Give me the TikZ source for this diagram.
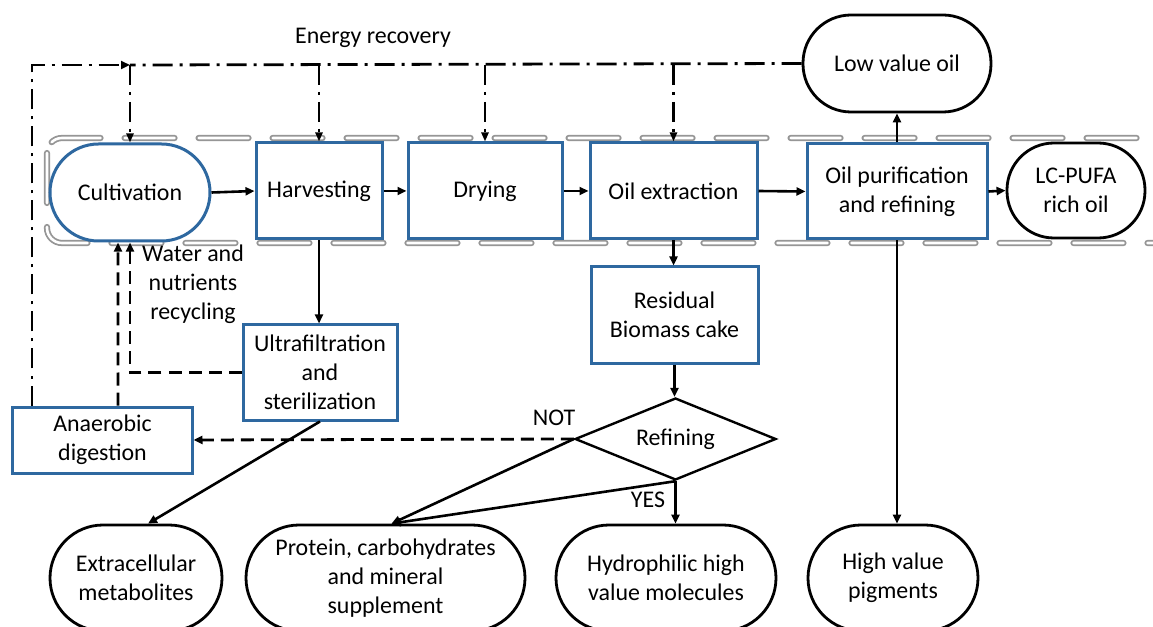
\documentclass[tikz,border=0pt]{standalone}
\usepackage{fontspec}
\setmainfont{Carlito}
\usetikzlibrary{arrows.meta,shapes.geometric}
\definecolor{boxblue}{RGB}{46,104,160}
\definecolor{bandgray}{RGB}{150,150,150}
\begin{document}
\begin{tikzpicture}[x=1bp,y=-1bp,
  every node/.style={font=\fontsize{24}{29}\selectfont, align=center},
  bluebox/.style={draw=boxblue, line width=3bp, fill=white, rectangle, inner sep=0pt},
  stad/.style={draw=black, line width=2.8bp, fill=white, rectangle, rounded corners=#1, inner sep=0pt},
  arr/.style={line width=2.6bp, -{Triangle[length=9bp,width=8bp]}},
  dsh/.style={line width=2.8bp, dash pattern=on 13bp off 7bp},
  dd/.style={line width=2.8bp, dash pattern=on 20bp off 7bp on 3bp off 7bp},
  band/.style={draw=bandgray, double=white, double distance=2.6bp, line width=1.8bp, dash pattern=on 50bp off 24bp, line cap=round, rounded corners=15bp},
  lbl/.style={inner sep=0pt}
]
\clip (0,0) rectangle (1153,627);
\fill[white] (0,0) rectangle (1153,627);
% grey band
\draw[band] (47,138) rectangle (1170,243);

% nodes
\node[bluebox, rounded corners=48.5bp, minimum width=160bp, minimum height=97bp] (cult) at (130,192.5) {Cultivation};
\node[bluebox, minimum width=126bp, minimum height=96bp] (harv) at (319,191) {Harvesting};
\node[bluebox, minimum width=154bp, minimum height=96bp] (dry) at (485,191) {Drying};
\node[bluebox, minimum width=167bp, minimum height=96bp] (oilext) at (673.5,191) {Oil extraction};
\node[bluebox, minimum width=180bp, minimum height=95bp] (purif) at (897,191.5) {Oil purification\\and refining};
\node[stad=47bp, minimum width=138bp, minimum height=95bp] (pufa) at (1076,190.5) {LC-PUFA\\rich oil};
\node[stad=48bp, minimum width=188bp, minimum height=97bp] (lowoil) at (897,63.5) {Low value oil};
\node[bluebox, minimum width=167bp, minimum height=96bp] (resid) at (674.5,315) {Residual\\Biomass cake};
\node[draw=black, line width=2.4bp, fill=white, diamond, inner sep=0pt, minimum width=201bp, minimum height=82bp, shape aspect=2.45] (refin) at (675.5,439) {Refining};
\node[bluebox, minimum width=154bp, minimum height=95bp] (ultra) at (320,372.5) {Ultrafiltration\\and\\sterilization};
\node[bluebox, minimum width=179bp, minimum height=66bp] (anaer) at (102.5,440) {Anaerobic\\digestion};
\node[stad=53bp, minimum width=172bp, minimum height=106bp] (extra) at (136,578) {Extracellular\\metabolites};
\node[stad=53bp, minimum width=279bp, minimum height=106bp] (prot) at (385.5,578) {Protein, carbohydrates\\and mineral\\supplement};
\node[stad=53bp, minimum width=220bp, minimum height=106bp] (hydro) at (666,578) {Hydrophilic high\\value molecules};
\node[stad=53bp, minimum width=170bp, minimum height=106bp] (pigm) at (893,578) {High value\\pigments};

% labels
\node[lbl] (lblenergy) at (373,38) {Energy recovery};
\node[lbl] (lblwater) at (193,284) {Water and\\nutrients\\recycling};
\node[lbl] (lblnot) at (554,418) {NOT};
\node[lbl] (lblyes) at (648,500) {YES};

% main solid arrows
\draw[arr] (cult.east) -- (harv.west);
\draw[arr] (harv.east) -- (dry.west);
\draw[arr] (dry.east) -- (oilext.west);
\draw[arr] (oilext.east) -- (purif.west);
\draw[arr] (purif.east) -- (pufa.west);
\draw[arr] (purif.north) -- (lowoil.south);
\draw[arr] (oilext.south) -- (oilext.south |- resid.north);
\draw[arr] (resid.south) -- (resid.south |- refin.north);
\draw[arr] (harv.south) -- (harv.south |- ultra.north);
\draw[arr] (ultra.south) -- ([xshift=12bp]extra.north);
\draw[arr] (refin.west) -- ([xshift=6bp]prot.north);
\draw[arr] (refin.south) -- ([xshift=6bp]prot.north);
\draw[arr] (refin.south) -- (refin.south |- hydro.north);
\draw[arr] (purif.south) -- (purif.south |- pigm.north);

% dashed recycling
\draw[dsh, -{Triangle[length=9bp,width=8bp]}] (refin.west) -- (anaer.east);
\draw[dsh, -{Triangle[length=9bp,width=8bp]}] (ultra.west) -- (ultra.west -| cult.south) -- (cult.south);
\draw[dsh, -{Triangle[length=9bp,width=8bp]}] ([xshift=15.5bp]anaer.north) -- ([xshift=-12bp]cult.south);

% energy recovery (dash-dot)
\coordinate (erL) at (32,65);
\coordinate (erC) at (130,65);
\draw[dd] (lowoil.west) -- (erC);
\draw[dd, -{Triangle[length=9bp,width=8bp]}] (anaer.north -| erL) -- (erL) -- (erC);
\draw[dd, -{Triangle[length=9bp,width=7bp]}] (cult.north |- erL) -- (cult.north);
\draw[dd, -{Triangle[length=9bp,width=7bp]}] (harv.north |- erL) -- (harv.north);
\draw[dd, -{Triangle[length=9bp,width=7bp]}] (dry.north |- erL) -- (dry.north);
\draw[dd, -{Triangle[length=9bp,width=7bp]}] (oilext.north |- erL) -- (oilext.north);
\end{tikzpicture}
\end{document}
